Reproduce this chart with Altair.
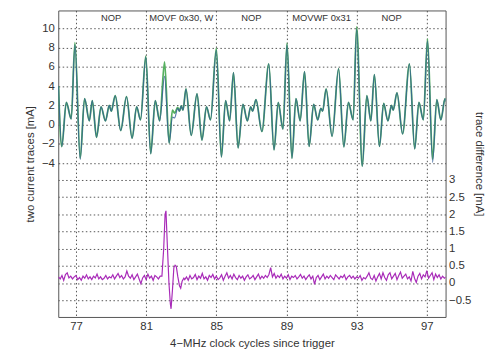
import altair as alt
import pandas as pd
import numpy as np

# ---- data ----
cycle_ticks = [77, 81, 85, 89, 93, 97]
left_ticks = [-4, -2, 0, 2, 4, 6, 8, 10]
right_ticks = [-0.5, 0, 0.5, 1, 1.5, 2, 2.5, 3]
instr_labels = ["NOP", "MOVF 0x30, W", "NOP", "MOVWF 0x31", "NOP"]
instr_centers = [79, 83, 87, 91, 95]

trace_t = [76.0, 76.19, 76.45, 76.73, 76.94, 77.24, 77.49, 77.76, 77.93, 78.17,
           78.43, 78.68, 78.9, 79.01, 79.24, 79.55, 79.88, 80.2, 80.46, 80.68,
           80.98, 81.26, 81.52, 81.77, 82.05, 82.31, 82.5, 82.62, 82.8, 82.9,
           83.0, 83.1, 83.27, 83.57, 83.9, 84.18, 84.44, 84.67, 85.0, 85.29,
           85.53, 85.76, 85.98, 86.24, 86.52, 86.77, 86.96, 87.07, 87.26, 87.6,
           87.99, 88.29, 88.53, 88.8, 89.03, 89.31, 89.54, 89.78, 90.03, 90.29,
           90.55, 90.78, 90.96, 91.06, 91.26, 91.6, 91.97, 92.27, 92.53, 92.8,
           93.0, 93.32, 93.58, 93.81, 94.01, 94.3, 94.54, 94.78, 94.99, 95.08,
           95.3, 95.62, 96.01, 96.31, 96.55, 96.8, 97.04, 97.33, 97.57, 97.8,
           98.04, 98.1]

trace_green = [4.0, -2.26, 2.3, 0.6, 8.5, -3.5, 2.7, 0.4, 2.5, -1.3,
               1.85, 0.4, 2.0, 1.4, 3.0, -0.6, 2.9, -1.4, 1.85, 0.5,
               7.1, -3.0, 2.5, 0.4, 6.5, -1.9, 1.5, 1.2, 1.8, 1.4,
               1.95, 1.5, 3.7, -1.1, 3.2, -1.6, 1.85, 0.5, 7.9, -3.35,
               2.5, 0.4, 5.4, -2.4, 2.1, 0.4, 1.85, 1.4, 2.6, -0.7,
               6.3, -2.6, 2.3, -0.45, 8.45, -3.5, 2.7, 0.4, 5.5, -2.25,
               2.1, 0.5, 1.7, 1.4, 3.7, -1.2, 5.8, -2.3, 2.3, 0.5,
               10.15, -4.3, 3.0, 0.4, 5.2, -2.25, 2.2, 0.4, 2.0, 1.5,
               3.3, -0.95, 6.3, -2.5, 2.3, 0.5, 8.9, -3.6, 2.6, 0.5,
               2.7, 2.4]

trace_blue = [4.0, -2.26, 2.3, 0.6, 8.3, -3.6, 2.7, 0.4, 2.5, -1.3,
              1.85, 0.4, 2.0, 1.4, 3.0, -0.6, 2.9, -1.4, 1.85, 0.5,
              7.0, -3.0, 2.5, 0.4, 5.0, -1.9, 0.8, 0.7, 1.7, 1.4,
              1.95, 1.5, 3.7, -1.1, 3.2, -1.6, 1.85, 0.5, 7.7, -3.35,
              2.5, 0.4, 5.4, -2.4, 2.1, 0.4, 1.85, 1.4, 2.6, -0.7,
              6.3, -2.6, 2.3, -0.45, 8.3, -3.5, 2.7, 0.4, 5.5, -2.25,
              2.1, 0.5, 1.7, 1.4, 3.7, -1.2, 5.8, -2.3, 2.3, 0.5,
              9.9, -4.3, 3.0, 0.4, 5.2, -2.25, 2.2, 0.4, 2.0, 1.5,
              3.3, -0.95, 6.3, -2.5, 2.3, 0.5, 8.7, -3.9, 2.6, 0.5,
              2.7, 2.4]

# difference trace: regular 0.1-cycle samples before/after the spike
diff_step = 0.1
diff_a_start = 76.0
diff_a = [0.18, 0.12, 0.22, 0.08, 0.25, 0.30, 0.15, 0.20, 0.12, 0.18,
          0.22, 0.10, 0.16, 0.08, 0.20, 0.14, 0.24, 0.12, 0.18, 0.10,
          0.20, 0.15, 0.26, 0.12, 0.18, 0.10, 0.14, 0.22, 0.12, 0.18,
          0.15, 0.24, 0.12, 0.20, 0.28, 0.16, 0.22, 0.12, 0.18, 0.35,
          0.20, 0.14, 0.24, 0.10, 0.18, 0.26, 0.12, -0.02, 0.15, 0.22,
          0.10, 0.26, 0.14, 0.20, 0.08, 0.22, 0.18, 0.12, 0.20]
spike_t = [81.9, 82.0, 82.08, 82.13, 82.2, 82.3, 82.38, 82.42, 82.5, 82.58,
           82.65, 82.72, 82.8, 82.9, 82.97, 83.05, 83.15, 83.2]
spike_v = [0.2, 1.0, 2.0, 2.1, 1.2, 0.0, -0.6, -0.75, -0.2, 0.45,
           0.52, 0.48, 0.2, -0.08, -0.15, 0.05, 0.14, 0.1]
diff_b_start = 83.3
diff_b = [0.18, 0.08, 0.22, 0.12, 0.16, 0.25, 0.10,
          0.20, 0.14, 0.28, 0.12, 0.18, 0.08, 0.22, 0.16, 0.25, 0.12,
          0.20, 0.10, 0.15, 0.24, 0.08, 0.20, 0.30, 0.14, 0.22, 0.12,
          0.26, 0.16, 0.10, 0.22, 0.14, 0.20, 0.08, 0.18, 0.24, 0.12,
          0.16, 0.22, 0.10, 0.18, 0.26, 0.12, 0.20, 0.14, 0.22, 0.16,
          0.25, 0.45, 0.18, 0.28, 0.14, 0.22, 0.16, 0.26, 0.12, 0.20,
          0.14, 0.24, 0.10, 0.20, 0.16, 0.22, 0.12, 0.18, 0.25, 0.14,
          0.20, 0.10, 0.18, 0.24, 0.12, 0.20, -0.04, 0.16, 0.22, 0.10,
          0.18, 0.26, 0.12, 0.20, 0.14, 0.22, 0.16, 0.10, 0.24, 0.18,
          0.12, 0.20, 0.16, 0.24, 0.10, 0.18, 0.22, 0.14, 0.20, 0.12,
          0.18, 0.14, 0.22, 0.08, 0.16, 0.12, 0.20, 0.30, 0.14, 0.10,
          0.22, 0.06, 0.18, 0.28, 0.12, 0.30, 0.16, 0.08, 0.24, 0.30,
          0.12, 0.20, 0.28, 0.10, 0.22, 0.32, 0.14, 0.20, 0.26, 0.12,
          0.18, 0.06, 0.34, 0.14, 0.02, 0.20, 0.28, 0.12, 0.24, 0.18,
          0.36, 0.14, 0.22, 0.30, 0.10, 0.26, 0.16, 0.24, 0.12, 0.20,
          0.14, 0.18]

# ---- tables ----
green_df = pd.DataFrame({"t": trace_t, "v": trace_green})
blue_df = pd.DataFrame({"t": trace_t, "v": trace_blue})
diff_df = pd.DataFrame({
    "t": list(np.round(diff_a_start + np.arange(len(diff_a)) * diff_step, 3))
         + spike_t
         + list(np.round(diff_b_start + np.arange(len(diff_b)) * diff_step, 3)),
    "v": diff_a + spike_v + diff_b,
})
label_df = pd.DataFrame({"t": instr_centers, "label": instr_labels})

FONT = "Liberation Sans"
TXT = "#333333"
GRID = dict(grid=True, gridColor="#444444", gridDash=[1.5, 2.5], gridWidth=1, gridOpacity=0.9)
AX = dict(labelFont=FONT, titleFont=FONT, labelFontSize=11.5, titleFontSize=11.5,
          labelColor=TXT, titleColor=TXT, titleFontWeight="normal",
          ticks=False, domain=False)

x_scale = alt.Scale(domain=[75.99, 98.07], nice=False, zero=False)


def xenc():
    return alt.X("t:Q", scale=x_scale,
                 axis=alt.Axis(values=cycle_ticks, format="d",
                               labelPadding=4, titlePadding=5, **GRID, **AX),
                 title="4\u2212MHz clock cycles since trigger")


left_y = alt.Y("v:Q",
               scale=alt.Scale(domain=[-19.93, 11.84], nice=False, zero=False),
               axis=alt.Axis(orient="left", values=left_ticks, format="d",
                             labelPadding=4, titlePadding=6, **GRID, **AX),
               title="two current traces [mA]")

right_y = alt.Y("v:Q",
                scale=alt.Scale(domain=[-0.987, 7.93], nice=False, zero=False),
                axis=alt.Axis(orient="right", values=right_ticks, format=".1~f",
                              labelPadding=3, titlePadding=3, **GRID, **AX),
                title="trace difference [mA]")

green = alt.Chart(green_df).mark_line(color="#56b060", strokeWidth=1.8,
                                      interpolate="monotone", clip=True).encode(x=xenc(), y=left_y)
blue = alt.Chart(blue_df).mark_line(color="#2f5c96", strokeWidth=1.2, opacity=0.8,
                                    interpolate="monotone", clip=True).encode(x=xenc(), y=left_y)
left_layer = alt.layer(green, blue)

purple = alt.Chart(diff_df).mark_line(color="#a82ab8", strokeWidth=1.2,
                                      clip=True).encode(x=xenc(), y=right_y)

labels = alt.Chart(label_df).mark_text(font=FONT, fontSize=9.5, color=TXT,
                                       baseline="middle", align="center").encode(
    x=xenc(), y=alt.value(8), text="label:N")

chart = alt.layer(left_layer, purple, labels).resolve_scale(y="independent").properties(
    width=393, height=311,
    padding={"left": 51, "top": 0, "right": 40, "bottom": 31},
    autosize=alt.AutoSizeParams(type="none"),
    background="white",
).configure_view(stroke="#555555", strokeWidth=1)

chart.save("out.html", embed_options={"renderer": "svg", "actions": False})
